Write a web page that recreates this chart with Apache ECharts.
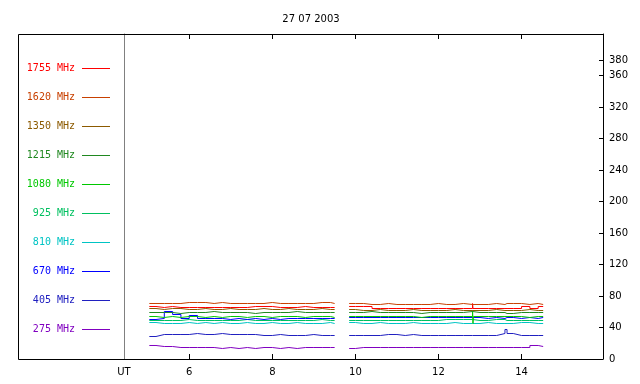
<!DOCTYPE html>
<html>
<head>
<meta charset="UTF-8">
<title>27 07 2003</title>
<script src="https://cdn.jsdelivr.net/npm/echarts@6/dist/echarts.min.js"></script>
<style>
  html, body { margin: 0; padding: 0; background: #fff; }
  #chart { width: 640px; height: 384px; }
</style>
</head>
<body>
<div id="chart"></div>
<script>
// time axis (UT hours); the repeated 9.5 carries the null that splits the two runs
var times = [5.04, 5.2, 5.4, 5.6, 5.8, 6.0, 6.2, 6.4, 6.6, 6.8, 7.0, 7.2, 7.4, 7.6, 7.8, 8.0, 8.2, 8.4, 8.6, 8.8, 9.0, 9.2, 9.4, 9.5,
  9.5,
  9.85, 10.0, 10.2, 10.4, 10.6, 10.8, 11.0, 11.2, 11.4, 11.6, 11.8, 12.0, 12.2, 12.4, 12.6, 12.82, 12.83, 12.84, 13.0, 13.2, 13.4, 13.6, 13.65, 13.8, 14.0, 14.2, 14.4, 14.52];

var v1755 = [66.72, 65.44, 66.72, 65.44, 65.44, 65.44, 65.44, 65.44, 65.44, 65.44, 65.44, 65.44, 66.72, 66.72, 66.72, 65.44, 65.44, 65.44, 66.72, 65.44, 65.44, 65.44, 65.44, 65.44,
  null,
  66.72, 66.72, 66.72, 64.17, 64.17, 64.17, 64.17, 64.17, 64.17, 64.17, 64.17, 64.17, 64.17, 64.17, 64.17, 70.53, 64.17, 64.17, 64.17, 64.17, 64.17, 64.17, 64.17, 64.17, 66.72, 64.17, 66.72, 66.72];
var v1620 = [70.53, 70.53, 70.53, 70.53, 71.80, 71.80, 71.80, 70.53, 71.80, 70.53, 70.53, 70.53, 70.53, 70.53, 71.80, 70.53, 70.53, 70.53, 70.53, 70.53, 71.80, 71.80, 70.53, 70.53,
  null,
  70.53, 70.53, 69.26, 69.26, 70.53, 69.26, 69.26, 69.26, 69.26, 69.26, 70.53, 69.26, 69.26, 70.53, 69.26, 69.26, 69.26, 69.26, 69.26, 70.53, 69.26, 70.53, 70.53, 70.53, 69.26, 70.53, 69.26, 69.26];
var v1350 = [64.17, 62.90, 64.17, 64.17, 62.90, 62.90, 64.17, 62.90, 62.90, 64.17, 62.90, 62.90, 62.90, 64.17, 62.90, 62.90, 64.17, 62.90, 62.90, 62.90, 64.17, 62.90, 62.90, 62.90,
  null,
  62.90, 61.63, 61.63, 62.90, 61.63, 61.63, 61.63, 62.90, 61.63, 61.63, 61.63, 61.63, 62.90, 61.63, 61.63, 61.63, 61.63, 61.63, 61.63, 62.90, 61.63, 61.63, 61.63, 61.63, 62.90, 61.63, 61.63, 61.63];
var v1215 = [59.09, 59.09, 59.09, 57.82, 59.09, 59.09, 59.09, 60.36, 59.09, 59.09, 59.09, 59.09, 57.82, 59.09, 59.09, 59.09, 59.09, 60.36, 59.09, 59.09, 59.09, 59.09, 59.09, 59.09,
  null,
  59.09, 59.09, 60.36, 59.09, 59.09, 59.09, 59.09, 59.09, 57.82, 59.09, 59.09, 59.09, 59.09, 59.09, 60.36, 59.09, 59.09, 59.09, 59.09, 59.09, 59.09, 57.82, 57.82, 59.09, 59.09, 59.09, 59.09, 59.09];
var v1080 = [54.01, 52.74, 54.01, 52.74, 54.01, 54.01, 52.74, 54.01, 52.74, 54.01, 54.01, 52.74, 54.01, 54.01, 52.74, 54.01, 54.01, 54.01, 52.74, 54.01, 54.01, 54.01, 52.74, 52.74,
  null,
  54.01, 54.01, 54.01, 54.01, 54.01, 54.01, 54.01, 54.01, 52.74, 54.01, 54.01, 54.01, 54.01, 54.01, 54.01, 61.63, 45.11, 54.01, 54.01, 54.01, 54.01, 54.01, 54.01, 54.01, 52.74, 54.01, 54.01, 54.01];
var v925 = [48.92, 48.92, 48.92, 48.92, 50.20, 48.92, 48.92, 48.92, 48.92, 48.92, 48.92, 50.20, 48.92, 48.92, 48.92, 48.92, 48.92, 48.92, 48.92, 48.92, 50.20, 48.92, 48.92, 48.92,
  null,
  48.92, 48.92, 48.92, 48.92, 48.92, 48.92, 48.92, 48.92, 48.92, 48.92, 48.92, 50.20, 50.20, 50.20, 50.20, 48.92, 48.92, 48.92, 48.92, 50.20, 50.20, 48.92, 48.92, 48.92, 48.92, 48.92, 48.92, 48.92];
var v810 = [46.38, 45.11, 45.11, 45.11, 46.38, 45.11, 46.38, 45.11, 46.38, 45.11, 45.11, 46.38, 45.11, 45.11, 46.38, 45.11, 45.11, 46.38, 45.11, 45.11, 45.11, 46.38, 45.11, 45.11,
  null,
  46.38, 45.11, 45.11, 46.38, 45.11, 45.11, 45.11, 46.38, 45.11, 45.11, 45.11, 45.11, 46.38, 45.11, 45.11, 45.11, 45.11, 45.11, 46.38, 45.11, 45.11, 45.11, 45.11, 46.38, 46.38, 45.11, 45.11, 45.11];
var v670 = [50.20, 51.47, 60.36, 56.55, 51.47, 55.28, 51.47, 51.47, 51.47, 50.20, 51.47, 50.20, 51.47, 50.20, 51.47, 50.20, 51.47, 51.47, 51.47, 51.47, 51.47, 51.47, 51.47, 51.47,
  null,
  52.74, 52.74, 52.74, 52.74, 52.74, 52.74, 52.74, 52.74, 52.74, 52.74, 52.74, 52.74, 52.74, 52.74, 52.74, 52.74, 52.74, 52.74, 51.47, 52.74, 51.47, 52.74, 52.74, 51.47, 52.74, 51.47, 52.74, 52.74];
var v405 = [28.59, 31.13, 31.13, 31.13, 31.13, 32.40, 31.13, 31.13, 32.40, 31.13, 31.13, 31.13, 31.13, 29.86, 29.86, 31.13, 29.86, 29.86, 29.86, 31.13, 29.86, 29.86, 29.86, 29.86,
  null,
  29.86, 29.86, 29.86, 29.86, 31.13, 31.13, 29.86, 31.13, 29.86, 29.86, 29.86, 29.86, 29.86, 29.86, 29.86, 29.86, 29.86, 29.86, 29.86, 29.86, 32.40, 37.49, 32.40, 29.86, 29.86, 29.86, 29.86, 29.86];
var v275 = [17.16, 15.88, 15.88, 14.61, 14.61, 14.61, 14.61, 14.61, 13.34, 14.61, 13.34, 14.61, 13.34, 14.61, 14.61, 13.34, 14.61, 13.34, 14.61, 14.61, 14.61, 14.61, 14.61, 14.61,
  null,
  13.34, 14.61, 14.61, 14.61, 14.61, 14.61, 14.61, 14.61, 14.61, 14.61, 14.61, 14.61, 14.61, 14.61, 14.61, 13.34, 14.61, 14.61, 14.61, 14.61, 14.61, 14.61, 14.61, 14.61, 14.61, 17.16, 15.88, 15.88];

var names = ['1755 MHz', '1620 MHz', '1350 MHz', '1215 MHz', '1080 MHz', '925 MHz', '810 MHz', '670 MHz', '405 MHz', '275 MHz'];
var colors = ['#ff0000', '#c84000', '#8c5a00', '#208820', '#00c800', '#00c060', '#00c4c4', '#0000ff', '#2020c0', '#8000c0'];
var values = [v1755, v1620, v1350, v1215, v1080, v925, v810, v670, v405, v275];
// draw order: low frequencies first
var drawOrder = [9, 8, 6, 5, 7, 4, 3, 2, 0, 1];

var hourTicks = [6, 8, 10, 12, 14];
var yTicks = [0, 40, 80, 120, 160, 200, 240, 280, 320, 360, 380];
var xMin = 4.43, xMax = 15.96;

var series = drawOrder.map(function (i) {
  return {
    type: 'line',
    name: names[i],
    step: 'end',
    symbol: 'none',
    animation: false,
    lineStyle: { width: 1, color: colors[i] },
    itemStyle: { color: colors[i] },
    data: times.map(function (t, k) {
      return [t, values[i][k] == null ? '-' : values[i][k]];
    })
  };
});

var chart = echarts.init(document.getElementById('chart'));
chart.setOption({
  animation: false,
  textStyle: { fontFamily: 'DejaVu Sans', fontSize: 10, color: '#000' },
  title: {
    text: '27 07 2003',
    left: 306,
    top: 9,
    textAlign: 'center',
    textStyle: { fontFamily: 'DejaVu Sans', fontSize: 10, fontWeight: 'normal', color: '#000' }
  },
  legend: {
    orient: 'vertical',
    right: 525,
    top: 56.5,
    align: 'right',
    // thin 28x1 bar, kept flat inside a 28x14 item box
    icon: 'path://M0,0H28V1H0Z',
    symbolKeepAspect: true,
    itemWidth: 28,
    itemHeight: 14,
    itemGap: 15,
    selectedMode: false,
    textStyle: { fontFamily: 'DejaVu Sans Mono', fontSize: 10, lineHeight: 14, height: 14, padding: [0, 2, 0, 0] },
    data: names.map(function (n, i) {
      return { name: n, textStyle: { color: colors[i] } };
    })
  },
  grid: { left: 124, right: 37, top: 34, bottom: 25 },
  xAxis: [{
    type: 'value', min: xMin, max: xMax, position: 'bottom',
    axisLine: { onZero: false, lineStyle: { color: '#000', width: 1 } },
    axisTick: { inside: true, length: 5, customValues: hourTicks, lineStyle: { color: '#000' } },
    axisLabel: {
      customValues: [xMin].concat(hourTicks), margin: 8, color: '#000', fontSize: 10,
      formatter: function (v) { return v < 5 ? 'UT' : String(v); }
    },
    splitLine: { show: false }
  }, {
    type: 'value', min: xMin, max: xMax, position: 'top',
    axisLine: { onZero: false, lineStyle: { color: '#000', width: 1 } },
    axisTick: { inside: true, length: 5, customValues: hourTicks, lineStyle: { color: '#000' } },
    axisLabel: { show: false },
    splitLine: { show: false }
  }],
  yAxis: [{
    type: 'value', min: 0, max: 413, position: 'right',
    axisLine: { show: true, onZero: false, lineStyle: { color: '#000', width: 1 } },
    axisTick: { show: true, inside: true, length: 4, customValues: yTicks, lineStyle: { color: '#000' } },
    axisLabel: { customValues: yTicks, margin: 6, color: '#000', fontSize: 10 },
    splitLine: { show: false }
  }, {
    type: 'value', min: 0, max: 413, position: 'left',
    axisLine: { show: true, onZero: false, lineStyle: { color: '#808080', width: 1 } },
    axisTick: { show: false },
    axisLabel: { show: false },
    splitLine: { show: false }
  }],
  graphic: [{
    type: 'polyline',
    silent: true,
    shape: { points: [[124, 34.5], [18.5, 34.5], [18.5, 359.5], [124, 359.5]] },
    style: { stroke: '#000', lineWidth: 1, fill: null }
  }],
  series: series
});
</script>
</body>
</html>
